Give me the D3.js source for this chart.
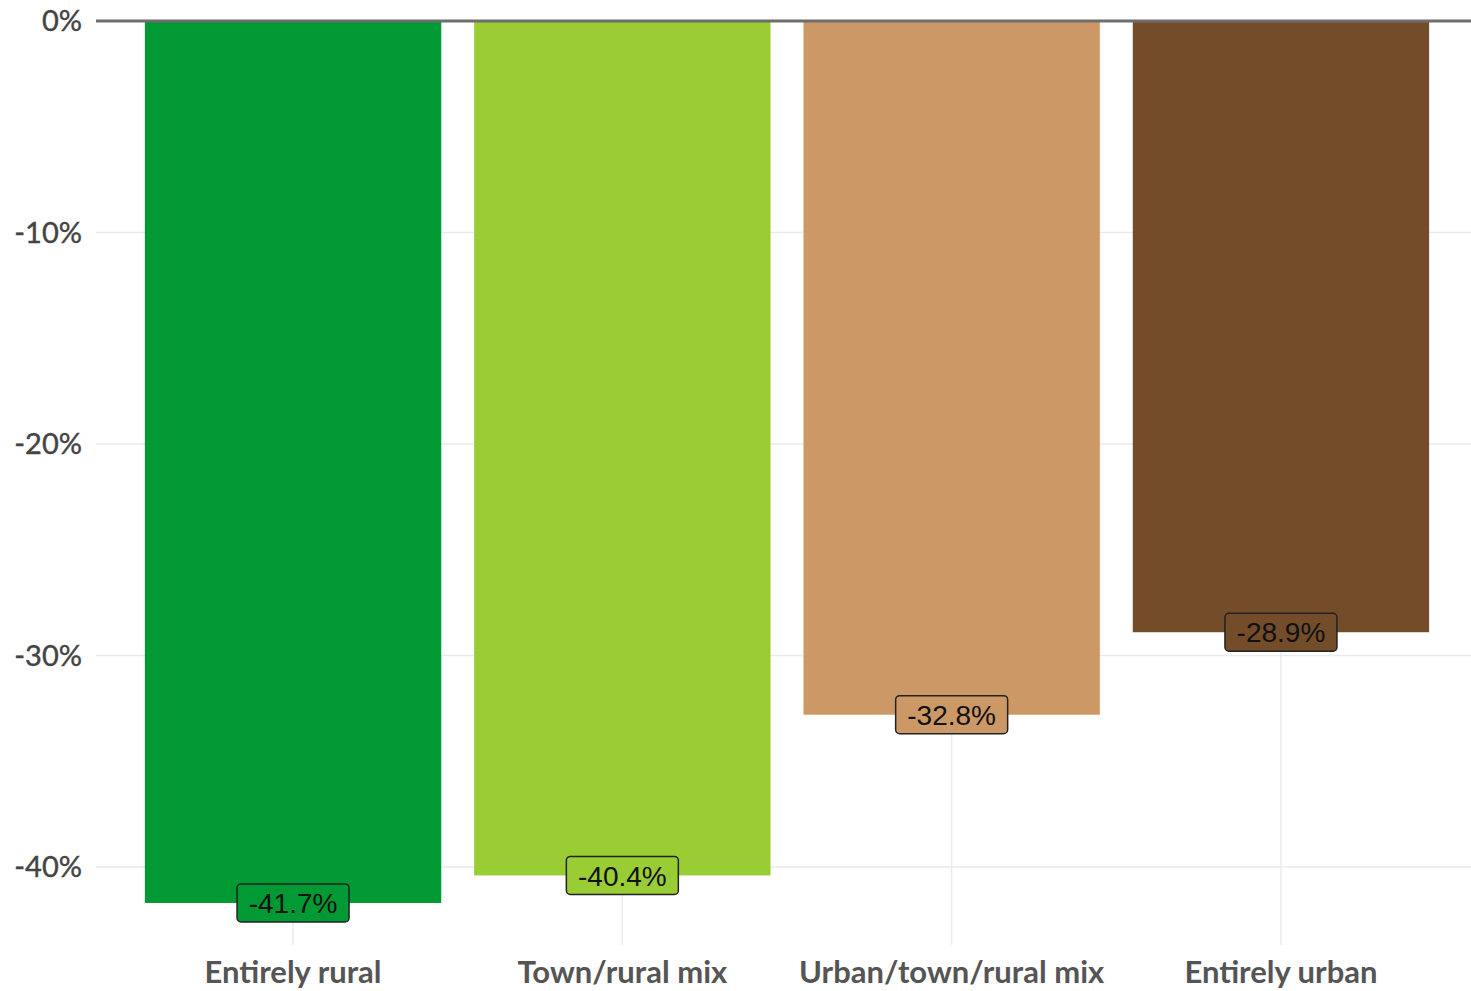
<!DOCTYPE html>
<html><head><meta charset="utf-8">
<script src="https://cdn.jsdelivr.net/npm/d3@7"></script>
<style>body{margin:0;background:#fff;}svg{display:block;}</style>
</head><body>
<svg id="chart" width="1471" height="991"></svg>
<script>
const categories = ["Entirely rural", "Town/rural mix", "Urban/town/rural mix", "Entirely urban"];
const values = [-41.7, -40.4, -32.8, -28.9];
const colors = ["#009933", "#9ACD34", "#CC9966", "#734C29"];
const yTicks = [0, -10, -20, -30, -40];
const valueLabels = ["-41.7%", "-40.4%", "-32.8%", "-28.9%"];

const svg = d3.select("#chart");
const panel = {left: 96, right: 1471, top: 0, bottom: 945};

const y = d3.scaleLinear().domain([0, -40]).range([21, 867]);
const x = d3.scaleBand().domain(categories).range([128.4, 1445.6]).paddingInner(0.1).paddingOuter(0.05);

// gridlines
svg.append("g").selectAll("line").data(yTicks).join("line")
  .attr("x1", panel.left).attr("x2", panel.right)
  .attr("y1", d => y(d)).attr("y2", d => y(d))
  .attr("stroke", "#ebebeb").attr("stroke-width", 1.5);
svg.append("g").selectAll("line").data(categories).join("line")
  .attr("x1", d => x(d) + x.bandwidth()/2).attr("x2", d => x(d) + x.bandwidth()/2)
  .attr("y1", y(0)).attr("y2", panel.bottom)
  .attr("stroke", "#ebebeb").attr("stroke-width", 1.5);

// bars
svg.append("g").selectAll("rect").data(categories).join("rect")
  .attr("x", d => x(d)).attr("width", x.bandwidth())
  .attr("y", y(0)).attr("height", (d, i) => y(values[i]) - y(0))
  .attr("fill", (d, i) => colors[i]);

// zero line
svg.append("line").attr("x1", panel.left).attr("x2", panel.right)
  .attr("y1", y(0)).attr("y2", y(0)).attr("stroke", "#6e6e6e").attr("stroke-width", 3);

// y axis labels
svg.append("g").selectAll("text").data(yTicks).join("text")
  .attr("x", 82).attr("y", d => y(d)).attr("dy", "0.35em")
  .attr("text-anchor", "end")
  .attr("font-family", "Lato, sans-serif").attr("font-size", 29)
  .attr("fill", "#444444").attr("stroke", "#444444").attr("stroke-width", 0.4)
  .text(d => d + "%");

// x axis labels
svg.append("g").selectAll("text").data(categories).join("text")
  .attr("x", d => x(d) + x.bandwidth()/2).attr("y", 983)
  .attr("text-anchor", "middle")
  .attr("font-family", "Lato, sans-serif").attr("font-weight", "bold").attr("font-size", 31)
  .attr("fill", "#555555")
  .text(d => d);

// value labels
const lab = svg.append("g").selectAll("g").data(categories).join("g")
  .attr("transform", (d, i) => `translate(${x(d) + x.bandwidth()/2},${y(values[i])})`);
lab.append("rect")
  .attr("x", -56).attr("y", -19).attr("width", 112).attr("height", 38)
  .attr("rx", 4).attr("ry", 4)
  .attr("fill", (d, i) => colors[i]).attr("stroke", "#222").attr("stroke-width", 1.5);
lab.append("text")
  .attr("text-anchor", "middle").attr("dy", "0.36em")
  .attr("font-family", "Liberation Sans, Arial, sans-serif").attr("font-size", 28)
  .attr("fill", "#111")
  .text((d, i) => valueLabels[i]);
</script>
</body></html>
